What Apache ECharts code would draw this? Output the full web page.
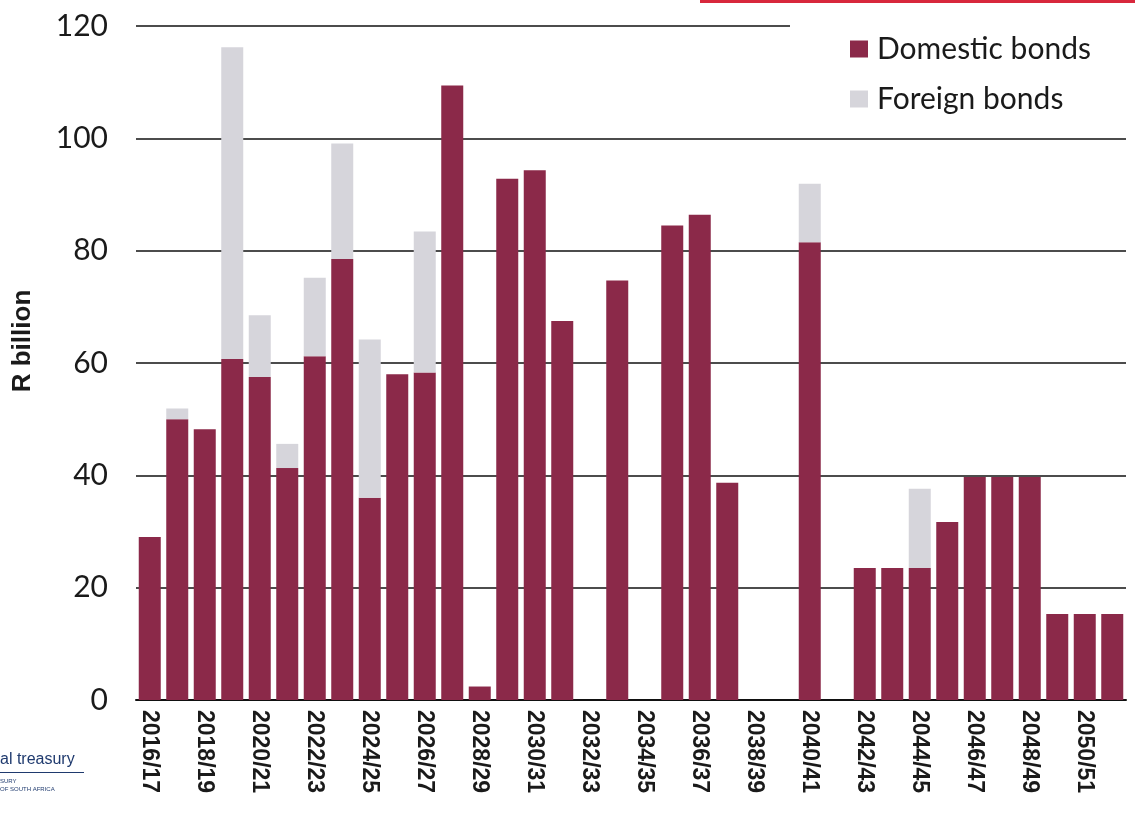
<!DOCTYPE html>
<html>
<head>
<meta charset="utf-8">
<script src="https://cdn.jsdelivr.net/npm/echarts@6/dist/echarts.min.js"></script>
<style>
  html, body { margin: 0; padding: 0; background: #ffffff; }
  #chart { width: 1135px; height: 820px; }
</style>
</head>
<body>
<div id="chart"></div>
<script>
const categories = [
  '2016/17','2017/18','2018/19','2019/20','2020/21','2021/22','2022/23','2023/24','2024/25',
  '2025/26','2026/27','2027/28','2028/29','2029/30','2030/31','2031/32','2032/33','2033/34',
  '2034/35','2035/36','2036/37','2037/38','2038/39','2039/40','2040/41','2041/42','2042/43',
  '2043/44','2044/45','2045/46','2046/47','2047/48','2048/49','2049/50','2050/51','2051/52'
];
const domesticBonds = [
  29, 50, 48.2, 60.7, 57.5, 41.3, 61.2, 78.5, 36,
  58, 58.3, 109.4, 2.4, 92.8, 94.3, 67.5, null, 74.7,
  null, 84.5, 86.4, 38.7, null, null, 81.5, null, 23.5,
  23.5, 23.5, 31.7, 39.7, 39.7, 39.7, 15.3, 15.3, 15.3
];
const foreignBonds = [
  null, 1.9, null, 55.5, 11, 4.3, 14, 20.6, 28.2,
  null, 25.1, null, null, null, null, null, null, null,
  null, null, null, null, null, null, 10.4, null, null,
  null, 14.1, null, null, null, null, null, null, null
];
const yTicks = { min: 0, max: 120, interval: 20 };

const chart = echarts.init(document.getElementById('chart'), null, { renderer: 'canvas' });
chart.setOption({
  animation: false,
  backgroundColor: '#ffffff',
  grid: { left: 136, right: 9, top: 26, bottom: 120 },
  legend: {
    orient: 'vertical',
    left: 790,
    top: 12,
    padding: [22, 120, 22, 60],
    backgroundColor: '#ffffff',
    itemWidth: 18,
    itemHeight: 17,
    itemGap: 20,
    icon: 'rect',
    textStyle: { fontFamily: 'Lato', fontSize: 30, color: '#1a1a1a', padding: [0, 0, 0, 4] },
    data: ['Domestic bonds', 'Foreign bonds']
  },
  xAxis: {
    type: 'category',
    data: categories,
    axisLine: { show: true, lineStyle: { color: '#111', width: 2 } },
    axisTick: { show: false },
    axisLabel: {
      interval: 1,
      rotate: -90,
      margin: 10,
      fontFamily: 'Liberation Sans',
      fontWeight: 'bold',
      fontSize: 23,
      color: '#1a1a1a'
    }
  },
  yAxis: {
    type: 'value',
    min: yTicks.min,
    max: yTicks.max,
    interval: yTicks.interval,
    name: 'R billion',
    nameLocation: 'middle',
    nameRotate: 90,
    nameGap: 100,
    nameTextStyle: {
      fontFamily: 'Liberation Sans', fontWeight: 'bold', fontSize: 26, color: '#1a1a1a',
      padding: [0, 0, 0, 44]
    },
    axisLine: { show: false },
    axisTick: { show: false },
    axisLabel: { margin: 28, fontFamily: 'Lato', fontSize: 30, color: '#1a1a1a' },
    splitLine: { show: true, lineStyle: { color: '#111', width: 1.6 } }
  },
  series: [
    {
      name: 'Domestic bonds',
      type: 'bar',
      stack: 'total',
      barWidth: '80%',
      itemStyle: { color: '#8b2949' },
      data: domesticBonds
    },
    {
      name: 'Foreign bonds',
      type: 'bar',
      stack: 'total',
      barWidth: '80%',
      itemStyle: { color: '#d6d5db' },
      data: foreignBonds
    }
  ],
  graphic: [
    { type: 'text', left: 0, top: 752, style: { text: 'al treasury', fontFamily: 'Liberation Sans', fontSize: 16, fill: '#1f3a6e' } },
    { type: 'rect', left: 0, top: 772, shape: { width: 84, height: 1 }, style: { fill: '#1f3a6e' } },
    { type: 'text', left: 0, top: 778, style: { text: 'SURY', fontFamily: 'Liberation Sans', fontSize: 6, fill: '#1f3a6e' } },
    { type: 'text', left: 0, top: 786, style: { text: 'OF SOUTH AFRICA', fontFamily: 'Liberation Sans', fontSize: 6, fill: '#1f3a6e' } },
    { type: 'rect', left: 700, top: 0, shape: { width: 435, height: 3 }, style: { fill: '#d8283c' } }
  ]
});
</script>
</body>
</html>
